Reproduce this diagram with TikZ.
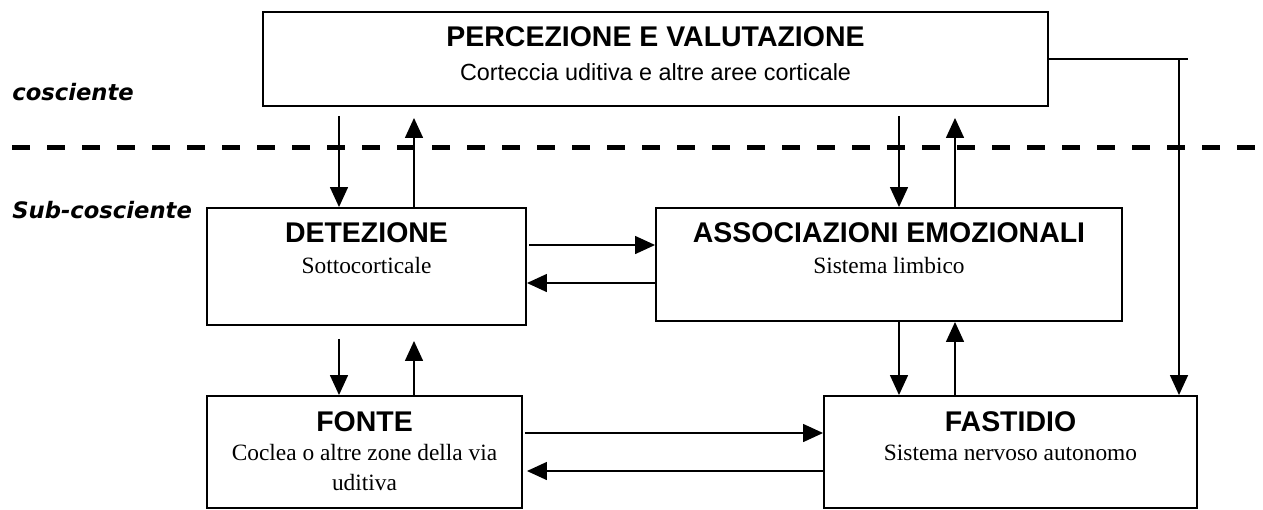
\documentclass[tikz,border=0pt]{standalone}
\usepackage{fontspec}
\usepackage{tikz}
\usetikzlibrary{arrows.meta}
\newfontfamily\helv{Liberation Sans}
\newfontfamily\tms{Liberation Serif}
\newfontfamily\verd{DejaVu Sans}

\begin{document}
\begin{tikzpicture}[
	box/.style={draw, line width=1.1pt, inner sep=0pt},
	ttl/.style={anchor=base, font=\helv\bfseries\fontsize{16.2}{19}\selectfont},
	sub/.style={anchor=base, font=\tms\fontsize{13.3}{16.8}\selectfont},
	side/.style={anchor=base west, inner sep=0pt, font=\verd\bfseries\itshape\fontsize{12.9}{15}\selectfont},
	arr/.style={-{Triangle[length=0.4cm, width=0.36cm]}, line width=0.85pt}]
	\useasboundingbox (0,0) rectangle (25.26,-10.18);

	\coordinate (xa) at (6.78, 0);
	\coordinate (xb) at (8.28, 0);
	\coordinate (xc) at (17.98, 0);
	\coordinate (xd) at (19.10, 0);
	\coordinate (ya) at (0, -4.90);
	\coordinate (yb) at (0, -5.66);
	\coordinate (yc) at (0, -8.66);
	\coordinate (yd) at (0, -9.42);
	\coordinate (bend) at (23.58, -1.18);
	\coordinate (bendend) at (23.76, -1.18);
	\coordinate (dashstart) at (0.24, -2.94);
	\coordinate (dashend) at (25.26, -2.94);

	\node [box, minimum width=15.7cm, minimum height=1.88cm] (perc) at (13.11, -1.18) {};
	\node [ttl, yshift=-0.70cm] (perctitle) at (perc.north) {PERCEZIONE E VALUTAZIONE};
	\node [sub, font=\helv\fontsize{13.3}{16.8}\selectfont, yshift=-1.38cm] (percsub) at (perc.north) {Corteccia uditiva e altre aree corticale};

	\node [box, minimum width=6.38cm, minimum height=2.34cm] (det) at (7.33, -5.33) {};
	\node [ttl, yshift=-0.70cm] (dettitle) at (det.north) {DETEZIONE};
	\node [sub, yshift=-1.32cm] (detsub) at (det.north) {Sottocorticale};

	\node [box, minimum width=9.32cm, minimum height=2.26cm] (assoc) at (17.78, -5.29) {};
	\node [ttl, yshift=-0.70cm] (assoctitle) at (assoc.north) {ASSOCIAZIONI EMOZIONALI};
	\node [sub, yshift=-1.32cm] (assocsub) at (assoc.north) {Sistema limbico};

	\node [box, minimum width=6.30cm, minimum height=2.24cm] (fonte) at (7.29, -9.04) {};
	\node [ttl, yshift=-0.72cm] (fontetitle) at (fonte.north) {FONTE};
	\node [sub, align=center, yshift=-1.90cm] (fontesub) at (fonte.north) {Coclea o altre zone della via\\uditiva};

	\node [box, minimum width=7.46cm, minimum height=2.24cm] (fast) at (20.21, -9.04) {};
	\node [ttl, yshift=-0.72cm] (fasttitle) at (fast.north) {FASTIDIO};
	\node [sub, yshift=-1.30cm] (fastsub) at (fast.north) {Sistema nervoso autonomo};

	\node [side] (cosc) at (0.24, -2.00) {cosciente};
	\node [side] (subcosc) at (0.24, -4.36) {Sub-cosciente};

	\draw [line width=0.1cm, dash pattern=on 0.36cm off 0.34cm] (dashstart) -- (dashend);

	\draw [arr, shorten <=0.18cm] (perc.south -| xa) -- (det.north -| xa);
	\draw [arr, shorten >=0.22cm] (det.north -| xb) -- (perc.south -| xb);
	\draw [arr, shorten <=0.18cm] (perc.south -| xc) -- (assoc.north -| xc);
	\draw [arr, shorten >=0.22cm] (assoc.north -| xd) -- (perc.south -| xd);

	\draw [arr, shorten <=0.04cm] (det.east |- ya) -- (assoc.west |- ya);
	\draw [arr] (assoc.west |- yb) -- (det.east |- yb);

	\draw [arr, shorten <=0.26cm] (det.south -| xa) -- (fonte.north -| xa);
	\draw [arr, shorten >=0.30cm] (fonte.north -| xb) -- (det.south -| xb);
	\draw [arr] (assoc.south -| xc) -- (fast.north -| xc);
	\draw [arr] (fast.north -| xd) -- (assoc.south -| xd);

	\draw [arr, shorten <=0.04cm] (fonte.east |- yc) -- (fast.west |- yc);
	\draw [arr, shorten >=0.08cm] (fast.west |- yd) -- (fonte.east |- yd);

	\draw [line width=0.85pt] (perc.east |- bend) -- (bendend);
	\draw [arr] (bend) -- (fast.north -| bend);
\end{tikzpicture}
\end{document}
